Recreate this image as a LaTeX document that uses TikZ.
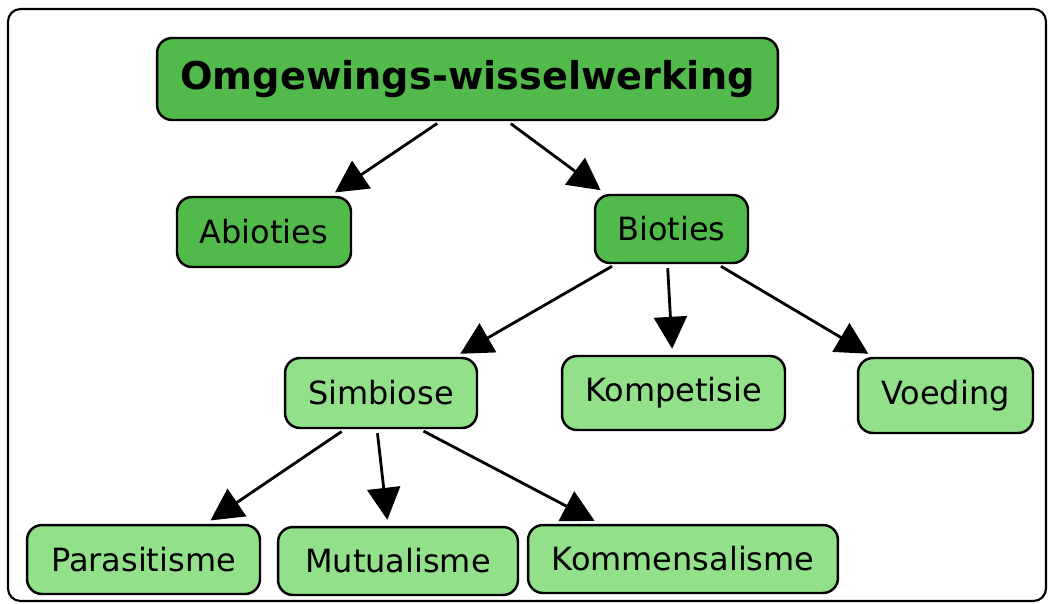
\documentclass[tikz,border=0pt]{standalone}
\usepackage{fontspec}
\setmainfont{DejaVu Sans}
\usetikzlibrary{arrows.meta, calc}

\definecolor{darkleaf}{RGB}{82,186,74}
\definecolor{lightleaf}{RGB}{146,224,138}

\begin{document}
\begin{tikzpicture}[x=0.02cm, y=-0.02cm]
% Styles
\tikzstyle{mainbox} = [rectangle, rounded corners=0.3cm, draw=black, line width=1.4pt, fill=darkleaf, align=center, inner sep=0pt, font=\fontsize{18.2}{21}\selectfont]
\tikzstyle{subbox} = [mainbox, fill=lightleaf]
\tikzstyle{arrow} = [line width=1.6pt, -{Triangle[length=0.64cm, width=0.66cm]}, shorten >=0.12cm, shorten <=0.08cm]

\useasboundingbox (0,0) rectangle (1048,603);
\draw[line width=1.2pt, rounded corners=0.25cm] (8,9) rectangle (1046,601);

\node (top) [mainbox, minimum width=12.42cm, minimum height=1.64cm, font=\fontsize{21.8}{24}\selectfont\bfseries] at (467.5,79) {Omgewings-wisselwerking};
\node (abio) [mainbox, minimum width=3.48cm, minimum height=1.4cm] at (264,232) {Abioties};
\node (bio) [mainbox, minimum width=3.06cm, minimum height=1.36cm] at (671.5,229) {Bioties};
\node (simb) [subbox, minimum width=3.84cm, minimum height=1.4cm] at (381,393) {Simbiose};
\node (komp) [subbox, minimum width=4.46cm, minimum height=1.48cm] at (673.5,393) {Kompetisie};
\node (voed) [subbox, minimum width=3.5cm, minimum height=1.5cm] at (945.5,395.5) {Voeding};
\node (para) [subbox, minimum width=4.66cm, minimum height=1.38cm] at (143.5,559.5) {Parasitisme};
\node (mutu) [subbox, minimum width=4.8cm, minimum height=1.36cm] at (398,561) {Mutualisme};
\node (komm) [subbox, minimum width=6.2cm, minimum height=1.36cm] at (683,559) {Kommensalisme};

\draw [arrow] ($(top.south)+(-27,0)$) -- ($(abio.north)+(66,0)$);
\draw [arrow] ($(top.south)+(40,0)$) -- ($(bio.north)+(-66,0)$);
\draw [arrow] ($(bio.south)+(-56,0)$) -- ($(simb.north)+(74,0)$);
\draw [arrow] ($(bio.south)+(-4,0)$) -- ($(komp.north)+(-1,0)$);
\draw [arrow] ($(bio.south)+(46,0)$) -- ($(voed.north)+(-72,0)$);
\draw [arrow] ($(simb.south)+(-36,0)$) -- ($(para.north)+(62,0)$);
\draw [arrow] ($(simb.south)+(-4,0)$) -- ($(mutu.north)+(-10,0)$);
\draw [arrow] ($(simb.south)+(39,0)$) -- ($(komm.north)+(-83,0)$);

\end{tikzpicture}
\end{document}
